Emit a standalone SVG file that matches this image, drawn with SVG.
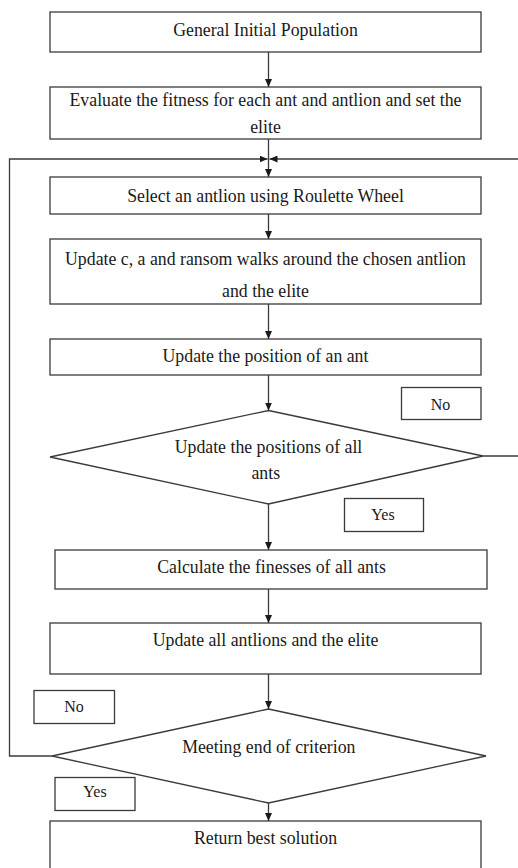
<svg xmlns="http://www.w3.org/2000/svg" width="518" height="868" viewBox="0 0 518 868">
  <style>
    .box { fill: #ffffff; stroke: #3a3a3a; stroke-width: 1.3; }
    .line { fill: none; stroke: #3a3a3a; stroke-width: 1.3; }
    .t { font-family: "Liberation Serif", "Times New Roman", serif; font-size: 17.8px; fill: #1a1a1a; text-anchor: middle; }
    .lbl { font-family: "Liberation Serif", "Times New Roman", serif; font-size: 16px; fill: #1a1a1a; text-anchor: middle; }
  </style>
  <defs>
    <marker id="arrow" markerUnits="userSpaceOnUse" markerWidth="8" markerHeight="7" refX="8" refY="3.5" orient="auto">
      <path d="M0,0 L8,3.5 L0,7 z" fill="#1a1a1a"/>
    </marker>
  </defs>
  <rect width="518" height="868" fill="#ffffff"/>

  <!-- connectors -->
  <g id="connectors">
    <line class="line" x1="268.5" y1="52" x2="268.5" y2="87" marker-end="url(#arrow)"/>
    <line class="line" x1="268.5" y1="139" x2="268.5" y2="177" marker-end="url(#arrow)"/>
    <line class="line" x1="268.5" y1="214" x2="268.5" y2="239" marker-end="url(#arrow)"/>
    <line class="line" x1="268.5" y1="304" x2="268.5" y2="339" marker-end="url(#arrow)"/>
    <line class="line" x1="268.5" y1="375" x2="268.5" y2="410.5" marker-end="url(#arrow)"/>
    <line class="line" x1="268.5" y1="504" x2="268.5" y2="550" marker-end="url(#arrow)"/>
    <line class="line" x1="268.5" y1="589" x2="268.5" y2="623" marker-end="url(#arrow)"/>
    <line class="line" x1="268.5" y1="674" x2="268.5" y2="709" marker-end="url(#arrow)"/>
    <line class="line" x1="268.5" y1="803" x2="268.5" y2="821" marker-end="url(#arrow)"/>
    <!-- "No" loop back from the criterion check -->
    <polyline class="line" points="52,756 9.5,756 9.5,159 267.5,159" marker-end="url(#arrow)"/>
    <!-- "No" loop back from the ant position check -->
    <polyline class="line" points="483,456 518,456" />
    <polyline class="line" points="518,159 269.5,159" marker-end="url(#arrow)"/>
  </g>

  <g id="n1">
    <rect class="box" x="50" y="12" width="431" height="40"/>
    <text class="t" x="265.5" y="35.5">General Initial Population</text>
  </g>
  <g id="n2">
    <rect class="box" x="50" y="87" width="431" height="52"/>
    <text class="t" x="265.5" y="106">Evaluate the fitness for each ant and antlion and set the</text>
    <text class="t" x="265.5" y="132.5">elite</text>
  </g>
  <g id="n3">
    <rect class="box" x="50" y="177" width="431" height="37"/>
    <text class="t" x="265.5" y="201.5">Select an antlion using Roulette Wheel</text>
  </g>
  <g id="n4">
    <rect class="box" x="50" y="239" width="431" height="65"/>
    <text class="t" x="265.5" y="265">Update c, a and ransom walks around the chosen antlion</text>
    <text class="t" x="265.5" y="296.5">and the elite</text>
  </g>
  <g id="n5">
    <rect class="box" x="50" y="339" width="431" height="36"/>
    <text class="t" x="265.5" y="361.5">Update the position of an ant</text>
  </g>
  <g id="d1">
    <polygon class="box" points="268.5,410.5 483,456 268.5,504 50,457"/>
    <text class="t" x="268.5" y="453">Update the positions of all</text>
    <text class="t" x="265.8" y="478.5">ants</text>
  </g>
  <g id="no1">
    <rect class="box" x="401.5" y="387.5" width="79.5" height="32"/>
    <text class="lbl" x="440.5" y="410">No</text>
  </g>
  <g id="yes1">
    <rect class="box" x="344.5" y="498.5" width="79" height="33"/>
    <text class="lbl" x="383" y="519.5">Yes</text>
  </g>
  <g id="n6">
    <rect class="box" x="55" y="550" width="432" height="39"/>
    <text class="t" x="271.5" y="572.5">Calculate the finesses of all ants</text>
  </g>
  <g id="n7">
    <rect class="box" x="50" y="623" width="431" height="51"/>
    <text class="t" x="265.5" y="646">Update all antlions and the elite</text>
  </g>
  <g id="d2">
    <polygon class="box" points="268.5,709 486,756 268.5,803 52,756"/>
    <text class="t" x="268.8" y="752.5">Meeting end of criterion</text>
  </g>
  <g id="no2">
    <rect class="box" x="34" y="690.5" width="80.5" height="33"/>
    <text class="lbl" x="74" y="711.5">No</text>
  </g>
  <g id="yes2">
    <rect class="box" x="55" y="777.5" width="80" height="33"/>
    <text class="lbl" x="95" y="797">Yes</text>
  </g>
  <g id="n8">
    <rect class="box" x="50" y="821" width="431" height="70"/>
    <text class="t" x="265.5" y="844">Return best solution</text>
  </g>
</svg>
